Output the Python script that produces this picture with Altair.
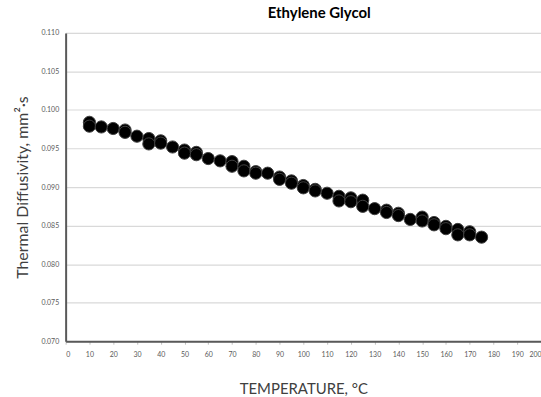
import altair as alt
import pandas as pd

temps = [10, 10, 15, 20, 25, 25, 30, 35, 35, 40, 40, 45, 50, 50, 55, 55, 60, 65,
         70, 70, 75, 75, 80, 80, 85, 90, 90, 95, 95, 100, 100, 105, 105, 110,
         115, 115, 120, 120, 125, 125, 130, 135, 135, 140, 140, 145, 150, 150,
         155, 155, 160, 160, 165, 165, 170, 170, 175]
diffusivity = [0.0984, 0.0979, 0.0978, 0.0976, 0.0974, 0.0971, 0.0966, 0.0963, 0.0956,
               0.0960, 0.0957, 0.0952, 0.0948, 0.0944, 0.0945, 0.0942, 0.0937, 0.0934,
               0.0933, 0.0927, 0.0927, 0.0921, 0.0920, 0.0918, 0.0918, 0.0913, 0.0910,
               0.0908, 0.0905, 0.0902, 0.0899, 0.0897, 0.0895, 0.0892,
               0.0888, 0.0882, 0.0886, 0.0881, 0.0883, 0.0875, 0.0872, 0.0870, 0.0867,
               0.0866, 0.0863, 0.0858, 0.0861, 0.0856,
               0.0854, 0.0851, 0.0849, 0.0846, 0.0845, 0.0838, 0.0842, 0.0838, 0.0835]

df = pd.DataFrame({"T": temps, "D": diffusivity})

font = "Lato"
gray = "#595959"

chart = alt.Chart(df).mark_point(
    filled=True, shape="circle", size=150, color="#000000",
    stroke="#404040", strokeWidth=1, opacity=1
).encode(
    x=alt.X("T:Q", scale=alt.Scale(domain=[0, 200], nice=False),
            axis=alt.Axis(title="TEMPERATURE, °C", values=list(range(0, 201, 10)),
                          grid=False, tickSize=3, tickColor="#bfbfbf",
                          labelFontSize=7, labelColor=gray, labelPadding=6,
                          titleFontSize=15, titleFontWeight="normal", titleColor="#404040",
                          titlePadding=25, domainColor=gray, domainWidth=2,
                          labelFont=font, titleFont=font)),
    y=alt.Y("D:Q", scale=alt.Scale(domain=[0.070, 0.110], nice=False, zero=False),
            axis=alt.Axis(title="Thermal Diffusivity, mm²·s", format=".3f",
                          values=[0.070, 0.075, 0.080, 0.085, 0.090, 0.095, 0.100, 0.105, 0.110],
                          grid=True, gridColor="#d9d9d9", gridWidth=1.2,
                          tickSize=0, labelFontSize=7, labelColor=gray, labelPadding=7,
                          titleFontSize=16, titleFontWeight="normal", titleColor="#404040",
                          titlePadding=10, domainColor=gray, domainWidth=2,
                          labelFont=font, titleFont=font)),
).properties(
    width=478, height=310,
    title=alt.TitleParams("Ethylene Glycol", fontSize=15, fontWeight="bold",
                          font=font, color="#000000", offset=8,
                          anchor="middle", frame="group", dx=16),
    autosize=alt.AutoSizeParams(type="none"),
    padding={"left": 66, "top": 32, "right": 0, "bottom": 55},
).configure_view(stroke=gray, strokeWidth=2).configure(background="white")

chart.save("out.html", embed_options={"renderer": "svg", "actions": False})
